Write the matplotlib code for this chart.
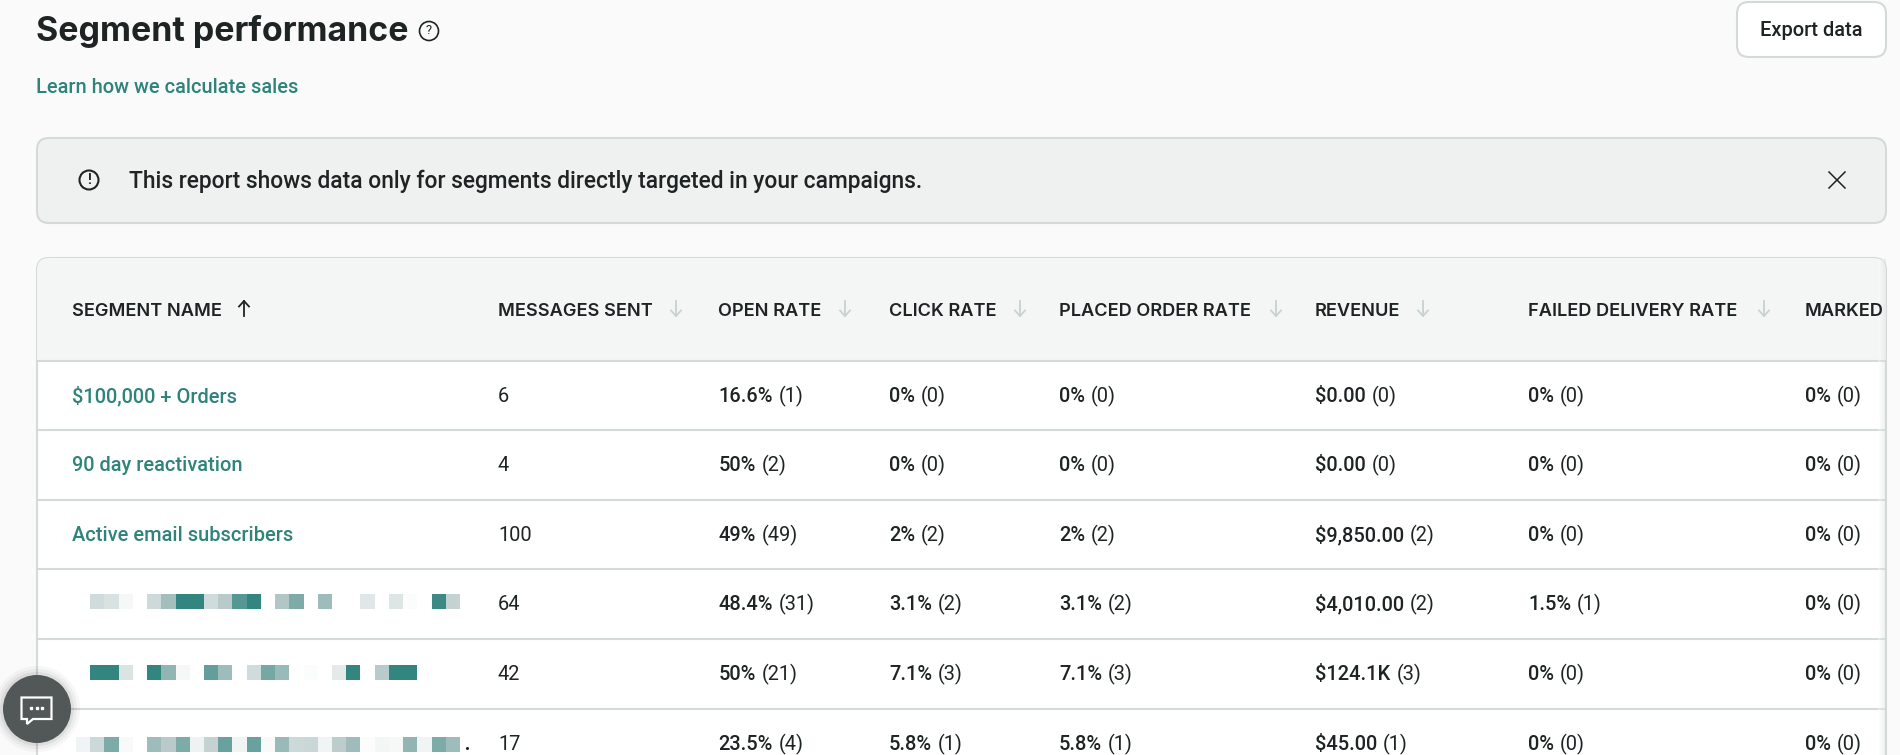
"""
Segment performance report table, drawn in pixel coordinates on one full-figure axes.
"""

import matplotlib

matplotlib.use("Agg")

import matplotlib.pyplot as plt
import numpy as np
from matplotlib.colors import LinearSegmentedColormap
from matplotlib.patches import Circle, FancyBboxPatch, Polygon, Rectangle

plt.rcParams["font.family"] = ["Roboto", "DejaVu Sans"]

W, H = 1900, 755

# table data
segment_names = ["$100,000 + Orders", "90 day reactivation", "Active email subscribers", "", "", ""]
messages_sent = [6, 4, 100, 64, 42, 17]
open_rate = ["16.6%", "50%", "49%", "48.4%", "50%", "23.5%"]
open_count = [1, 2, 49, 31, 21, 4]
click_rate = ["0%", "0%", "2%", "3.1%", "7.1%", "5.8%"]
click_count = [0, 0, 2, 2, 3, 1]
placed_rate = ["0%", "0%", "2%", "3.1%", "7.1%", "5.8%"]
placed_count = [0, 0, 2, 2, 3, 1]
revenue = ["$0.00", "$0.00", "$9,850.00", "$4,010.00", "$124.1K", "$45.00"]
revenue_count = [0, 0, 2, 2, 3, 1]
failed_rate = ["0%", "0%", "0%", "1.5%", "0%", "0%"]
failed_count = [0, 0, 0, 1, 0, 0]
marked_rate = ["0%", "0%", "0%", "0%", "0%", "0%"]
marked_count = [0, 0, 0, 0, 0, 0]

headers = ["SEGMENT NAME", "MESSAGES SENT", "OPEN RATE", "CLICK RATE",
           "PLACED ORDER RATE", "REVENUE", "FAILED DELIVERY RATE", "MARKED"]

# pixelated (redacted) segment names, teal intensity per block
mosaic_row4 = [0, .33, .28, .06, 0, .35, .58, 1, 1, .33, .5, .87, 1, 0, .53, .72, 0, .6, 0, 0,
               .22, 0, .24, .03, 0, .96, .42]
mosaic_row5 = [0, 1, 1, .26, 0, 1, .65, .06, 0, .82, .6, 0, .33, .75, .62, 0, .03, 0, .2, 1,
               0, .5, 1, 1, 0, 0, 0]
mosaic_row6 = [.1, .36, .72, .05, 0, .6, .5, .72, .12, .42, .8, .1, .8, .05, .62, .36, .38, .1,
               .48, .6, .02, .08, .06, .65, .1, .72, .6]

INK = "#1e2323"
TEAL = "#2e837b"
BORDER = "#d3dad9"
MUTED = "#c9d2d1"

column_x = [72, 498, 718.5, 889, 1059, 1315, 1528, 1805]
sort_arrow_x = [244, 676, 845, 1020, 1276, 1423, 1764]
row_lines = [361, 430, 500, 569, 639, 709]
row_centers = [395, 464, 534, 603.5, 673, 743]

fig = plt.figure(figsize=(W / 100, H / 100), dpi=100, facecolor="#fafafa")
ax = fig.add_axes([0, 0, 1, 1])
ax.axis("off")
ax.set_xlim(0, W)
ax.set_ylim(H, 0)
ax.autoscale(False)
renderer = fig.canvas.get_renderer()


def px(size: float) -> float:
    """Font size in points from a pixel size."""
    return size * 0.72


def rounded(x0, y0, x1, y1, radius, face, edge=BORDER, lw=1.5, zorder=1):
    patch = FancyBboxPatch((x0, y0), x1 - x0, y1 - y0, boxstyle=f"round,pad=0,rounding_size={radius}",
                           facecolor=face, edgecolor=edge, linewidth=lw, zorder=zorder)
    ax.add_patch(patch)
    return patch


def label(x, y, s, size=20, color=INK, weight="normal", **kwargs):
    kwargs.setdefault("va", "center")
    kwargs.setdefault("ha", "left")
    return ax.text(x, y, s, fontsize=px(size), color=color, fontweight=weight, parse_math=False,
                   zorder=6, **kwargs)


def value_pair(x, y, value, count):
    """Bold value followed by its count in brackets."""
    first = label(x, y + 7, value, weight="medium", va="baseline")
    right = first.get_window_extent(renderer).x1
    label(right + 6, y + 7, f"({count})", va="baseline")


def sort_arrow(x, color, up=False):
    top, bottom = 301, 316
    tip, tail = (top, bottom) if up else (bottom, top)
    wing = tip + (5.5 if up else -5.5)
    ax.plot([x, x], [tail, tip], color=color, lw=1.3, zorder=6)
    ax.plot([x - 5, x, x + 5], [wing, tip, wing], color=color, lw=1.3, zorder=6)


# title block
label(36, 32, "Segment performance", size=33.9, weight="bold", family="Inter")
ax.add_patch(Circle((429, 31), 9.5, facecolor="none", edgecolor=INK, lw=1.2, zorder=6))
label(429, 31, "?", size=13, ha="center")
label(36, 87.5, "Learn how we calculate sales", size=20, color=TEAL, weight="medium")

# export button
rounded(1737, 2, 1886, 57, 12, "#ffffff")
label(1811, 30.5, "Export data", size=20, weight="medium", ha="center")

# info banner
rounded(37, 138, 1886, 223, 12, "#eff1f0")
ax.add_patch(Circle((89, 180), 9.5, facecolor="none", edgecolor=INK, lw=1.5, zorder=6))
label(89, 180, "!", size=14, weight="bold", ha="center")
label(129, 181, "This report shows data only for segments directly targeted in your campaigns.",
      size=22.7, weight="medium")
ax.plot([1829, 1845], [172, 188], color=INK, lw=1.1, zorder=6)
ax.plot([1829, 1845], [188, 172], color=INK, lw=1.1, zorder=6)

# table shell, runs past the bottom of the screenshot
shell = rounded(37, 258, 1886, 800, 12, "#ffffff")
header_band = Rectangle((37, 258), 1849, row_lines[0] - 258, facecolor="#f4f6f6", edgecolor="none", zorder=2)
ax.add_patch(header_band)
header_band.set_clip_path(shell)
for y in row_lines:
    ax.plot([37, 1886], [y, y], color=BORDER, lw=1.5, zorder=3)

# soft shadow on the scrolled right edge
shadow = np.linspace(0, 0.16, 8).reshape(1, -1)
shadow_cmap = LinearSegmentedColormap.from_list("edge", ["#ffffff", "#000000"])
ax.imshow(shadow, extent=(1878, 1885.5, 755, 259), cmap=shadow_cmap, vmin=0, vmax=1, alpha=0.35,
          aspect="auto", zorder=4, interpolation="bilinear")

for x, title in zip(column_x, headers):
    label(x, 311.5, title, size=18.2, weight="semibold", family="Inter")
sort_arrow(sort_arrow_x[0], INK, up=True)
for x in sort_arrow_x[1:]:
    sort_arrow(x, MUTED)

# rows
columns = [(column_x[2], open_rate, open_count), (column_x[3], click_rate, click_count),
           (column_x[4], placed_rate, placed_count), (column_x[5], revenue, revenue_count),
           (column_x[6], failed_rate, failed_count), (column_x[7], marked_rate, marked_count)]
for i, y in enumerate(row_centers):
    if segment_names[i]:
        label(column_x[0], y + 7, segment_names[i], color=TEAL, weight="medium", va="baseline")
    label(column_x[1], y + 7, str(messages_sent[i]), va="baseline")
    for x, rates, counts in columns:
        value_pair(x, y, rates[i], counts[i])

# redacted names
mosaic_cmap = LinearSegmentedColormap.from_list("mosaic", ["#ffffff", "#b9cbca", "#33857f"])
block = 14.22
mosaic_x0 = 90.7 - block
for row, y_top in ((mosaic_row4, 595), (mosaic_row5, 666), (mosaic_row6, 737.5)):
    cells = np.array(row).reshape(1, -1)
    ax.imshow(cells, extent=(mosaic_x0, mosaic_x0 + block * cells.shape[1], y_top + 14.4, y_top),
              cmap=mosaic_cmap, vmin=0, vmax=1, aspect="auto", interpolation="nearest", zorder=5)
ax.plot([467], [748], "o", color=INK, ms=1.2, zorder=6)

# chat button with a soft shadow
for radius, alpha in ((43, .03), (40, .04), (37, .06)):
    ax.add_patch(Circle((37, 709), radius, facecolor="#000000", edgecolor="none", alpha=alpha, zorder=7))
ax.add_patch(Circle((37, 709), 34, facecolor="#525857", edgecolor="none", zorder=8))
ax.add_patch(Polygon([(21.5, 697.5), (51.5, 697.5), (51.5, 719), (33, 719), (27, 724), (27, 719), (21.5, 719)],
                     closed=True, facecolor="none", edgecolor="#ffffff", lw=1.6, zorder=9))
ax.plot([31, 36.5, 42], [708, 708, 708], "s", color="#ffffff", ms=2, zorder=9)

fig.savefig("out.png", dpi=100, facecolor=fig.get_facecolor())
